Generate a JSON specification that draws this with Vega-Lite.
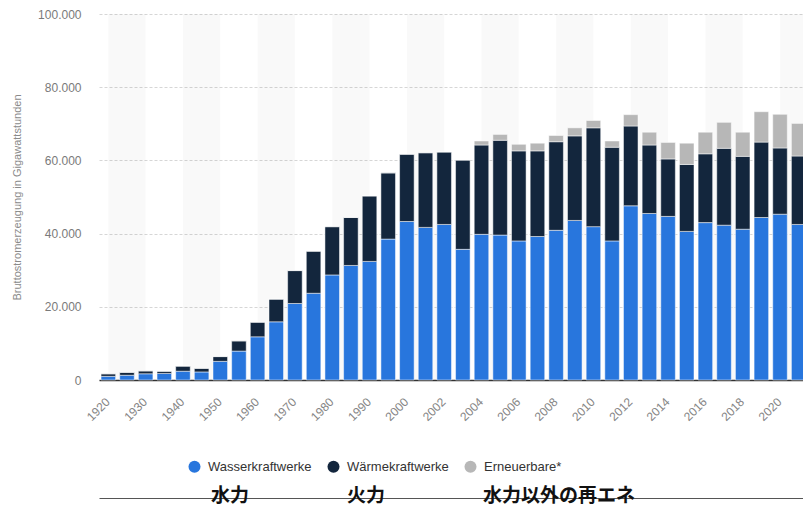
{
  "$schema": "https://vega.github.io/schema/vega-lite/v6.json",
  "autosize": "none",
  "width": 709,
  "height": 366,
  "padding": {"left": 99, "top": 14, "right": 0, "bottom": 126},
  "background": "#ffffff",
  "config": {
    "view": {"stroke": null},
    "font": "Liberation Sans",
    "axisY": {
      "title": "Bruttostromerzeugung in Gigawattstunden",
      "titleFontSize": 11,
      "titleColor": "#8a8a8a",
      "titleFontWeight": "normal",
      "titlePadding": 15,
      "labelFontSize": 12,
      "labelColor": "#7a7a7a",
      "labelPadding": 18,
      "ticks": false,
      "domain": false,
      "grid": true,
      "gridColor": "#d6d6d6",
      "gridDash": [3, 2]
    }
  },
  "resolve": {"scale": {"x": "independent"}},
  "datasets": {
    "strom": [
      {"jahr": 1920, "wasser": 1000, "waerme": 700, "erneuerbar": 0},
      {"jahr": 1925, "wasser": 1300, "waerme": 800, "erneuerbar": 0},
      {"jahr": 1930, "wasser": 1700, "waerme": 800, "erneuerbar": 0},
      {"jahr": 1935, "wasser": 1800, "waerme": 600, "erneuerbar": 0},
      {"jahr": 1940, "wasser": 2400, "waerme": 1400, "erneuerbar": 0},
      {"jahr": 1945, "wasser": 2200, "waerme": 1000, "erneuerbar": 0},
      {"jahr": 1950, "wasser": 5100, "waerme": 1300, "erneuerbar": 0},
      {"jahr": 1955, "wasser": 7900, "waerme": 2800, "erneuerbar": 0},
      {"jahr": 1960, "wasser": 11800, "waerme": 4000, "erneuerbar": 0},
      {"jahr": 1965, "wasser": 15900, "waerme": 6200, "erneuerbar": 0},
      {"jahr": 1970, "wasser": 20900, "waerme": 9000, "erneuerbar": 0},
      {"jahr": 1975, "wasser": 23700, "waerme": 11500, "erneuerbar": 0},
      {"jahr": 1980, "wasser": 28700, "waerme": 13200, "erneuerbar": 0},
      {"jahr": 1985, "wasser": 31300, "waerme": 13100, "erneuerbar": 0},
      {"jahr": 1990, "wasser": 32400, "waerme": 17900, "erneuerbar": 0},
      {"jahr": 1995, "wasser": 38500, "waerme": 18100, "erneuerbar": 0},
      {"jahr": 2000, "wasser": 43300, "waerme": 18400, "erneuerbar": 0},
      {"jahr": 2001, "wasser": 41700, "waerme": 20400, "erneuerbar": 0},
      {"jahr": 2002, "wasser": 42500, "waerme": 19800, "erneuerbar": 0},
      {"jahr": 2003, "wasser": 35700, "waerme": 24400, "erneuerbar": 0},
      {"jahr": 2004, "wasser": 39800, "waerme": 24400, "erneuerbar": 1100},
      {"jahr": 2005, "wasser": 39600, "waerme": 25900, "erneuerbar": 1600},
      {"jahr": 2006, "wasser": 38000, "waerme": 24600, "erneuerbar": 1800},
      {"jahr": 2007, "wasser": 39200, "waerme": 23400, "erneuerbar": 2100},
      {"jahr": 2008, "wasser": 40900, "waerme": 24200, "erneuerbar": 1700},
      {"jahr": 2009, "wasser": 43600, "waerme": 23100, "erneuerbar": 2200},
      {"jahr": 2010, "wasser": 41900, "waerme": 27000, "erneuerbar": 2000},
      {"jahr": 2011, "wasser": 38000, "waerme": 25600, "erneuerbar": 1700},
      {"jahr": 2012, "wasser": 47600, "waerme": 21800, "erneuerbar": 3100},
      {"jahr": 2013, "wasser": 45500, "waerme": 18700, "erneuerbar": 3500},
      {"jahr": 2014, "wasser": 44700, "waerme": 15700, "erneuerbar": 4500},
      {"jahr": 2015, "wasser": 40600, "waerme": 18300, "erneuerbar": 5800},
      {"jahr": 2016, "wasser": 43000, "waerme": 18800, "erneuerbar": 5900},
      {"jahr": 2017, "wasser": 42300, "waerme": 21000, "erneuerbar": 7100},
      {"jahr": 2018, "wasser": 41200, "waerme": 19900, "erneuerbar": 6600},
      {"jahr": 2019, "wasser": 44400, "waerme": 20600, "erneuerbar": 8300},
      {"jahr": 2020, "wasser": 45300, "waerme": 18100, "erneuerbar": 9200},
      {"jahr": 2021, "wasser": 42500, "waerme": 18700, "erneuerbar": 8900}
    ],
    "serien": [
      {"key": "wasser", "serie": "Wasserkraftwerke", "jp": "水力", "rang": 1},
      {"key": "waerme", "serie": "Wärmekraftwerke", "jp": "火力", "rang": 2},
      {"key": "erneuerbar", "serie": "Erneuerbare*", "jp": "水力以外の再エネ", "rang": 3}
    ],
    "baender": [
      {"jahr": 1925}, {"jahr": 1945}, {"jahr": 1965}, {"jahr": 1985}, {"jahr": 2001},
      {"jahr": 2005}, {"jahr": 2009}, {"jahr": 2013}, {"jahr": 2017}, {"jahr": 2021}
    ]
  },
  "layer": [
    {
      "data": {"name": "baender"},
      "mark": {"type": "bar", "width": {"band": 2.5641}, "color": "#000000", "opacity": 0.022},
      "encoding": {
        "x": {
          "field": "jahr",
          "type": "ordinal",
          "scale": {
            "domain": [1920, 1925, 1930, 1935, 1940, 1945, 1950, 1955, 1960, 1965, 1970, 1975, 1980, 1985, 1990, 1995, 2000, 2001, 2002, 2003, 2004, 2005, 2006, 2007, 2008, 2009, 2010, 2011, 2012, 2013, 2014, 2015, 2016, 2017, 2018, 2019, 2020, 2021],
            "paddingInner": 0.22,
            "paddingOuter": 0.11
          },
          "axis": null
        },
        "y": {
          "datum": 100000,
          "type": "quantitative",
          "scale": {"domain": [0, 100000]},
          "axis": {
            "title": "Bruttostromerzeugung in Gigawattstunden",
            "values": [0, 20000, 40000, 60000, 80000, 100000],
            "labelExpr": "replace(format(datum.value, ','), ',', '.')"
          }
        },
        "y2": {"datum": 0}
      }
    },
    {
      "data": {"name": "strom"},
      "transform": [
        {"fold": ["wasser", "waerme", "erneuerbar"], "as": ["key", "gwh"]},
        {"lookup": "key", "from": {"data": {"name": "serien"}, "key": "key", "fields": ["serie", "jp", "rang"]}}
      ],
      "mark": {"type": "bar", "stroke": "#ffffff", "strokeWidth": 0.5},
      "encoding": {
        "x": {
          "field": "jahr",
          "type": "ordinal",
          "scale": {
            "domain": [1920, 1925, 1930, 1935, 1940, 1945, 1950, 1955, 1960, 1965, 1970, 1975, 1980, 1985, 1990, 1995, 2000, 2001, 2002, 2003, 2004, 2005, 2006, 2007, 2008, 2009, 2010, 2011, 2012, 2013, 2014, 2015, 2016, 2017, 2018, 2019, 2020, 2021],
            "paddingInner": 0.22,
            "paddingOuter": 0.11
          },
          "axis": {
            "orient": "bottom",
            "title": null,
            "values": [1920, 1930, 1940, 1950, 1960, 1970, 1980, 1990, 2000, 2002, 2004, 2006, 2008, 2010, 2012, 2014, 2016, 2018, 2020],
            "labelAngle": -45,
            "labelFontSize": 12,
            "labelColor": "#858585",
            "labelPadding": 16,
            "labelOffset": -4,
            "ticks": false,
            "domain": true,
            "domainColor": "#333333",
            "domainWidth": 1.5,
            "grid": false
          }
        },
        "y": {
          "field": "gwh",
          "type": "quantitative",
          "stack": "zero",
          "scale": {"domain": [0, 100000]},
          "axis": {
            "title": "Bruttostromerzeugung in Gigawattstunden",
            "values": [0, 20000, 40000, 60000, 80000, 100000],
            "labelExpr": "replace(format(datum.value, ','), ',', '.')"
          }
        },
        "color": {
          "field": "serie",
          "type": "nominal",
          "scale": {"domain": ["Wasserkraftwerke", "Wärmekraftwerke", "Erneuerbare*"], "range": ["#2876dd", "#13263d", "#b7b7b7"]},
          "legend": {
            "orient": "none",
            "legendX": 89,
            "legendY": 446,
            "direction": "horizontal",
            "title": null,
            "symbolType": "circle",
            "symbolSize": 144,
            "symbolStrokeWidth": 0,
            "labelFontSize": 13,
            "labelColor": "#333333",
            "labelOffset": 7,
            "columnPadding": 15,
            "padding": 0
          }
        },
        "opacity": {
          "field": "jp",
          "type": "nominal",
          "scale": {"domain": ["水力", "火力", "水力以外の再エネ"], "range": [1, 1, 1]},
          "legend": {
            "orient": "none",
            "legendX": 93,
            "legendY": 472,
            "direction": "horizontal",
            "title": null,
            "symbolSize": 0,
            "symbolStrokeWidth": 0,
            "symbolOpacity": 0,
            "labelFont": "Noto Sans CJK JP",
            "labelFontSize": 19,
            "labelFontWeight": "bold",
            "labelColor": "#111111",
            "labelOffset": 0,
            "columnPadding": 78,
            "padding": 0,
            "labelLimit": 400
          }
        },
        "order": {"field": "rang", "type": "quantitative"}
      }
    },
    {
      "data": {"name": "strom"},
      "mark": {"type": "tick", "opacity": 0},
      "encoding": {
        "x": {
          "field": "jahr",
          "type": "quantitative",
          "axis": {
            "orient": "bottom",
            "offset": 118,
            "labels": false,
            "ticks": false,
            "grid": false,
            "title": null,
            "domain": true,
            "domainColor": "#555555",
            "domainWidth": 1
          }
        }
      }
    }
  ]
}
